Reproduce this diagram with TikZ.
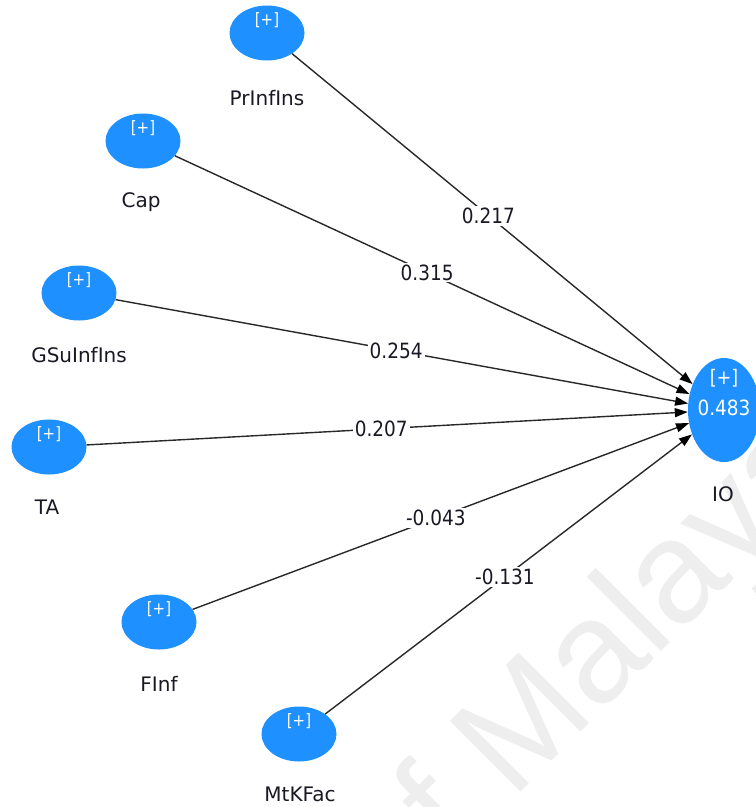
\documentclass[tikz,border=0pt]{standalone}
\usepackage{fontspec}
\setmainfont{DejaVu Sans}
\newfontfamily\edgefont[FakeStretch=0.88]{DejaVu Sans}
\newfontfamily\markfont{Liberation Sans}
\usetikzlibrary{shapes.geometric,arrows.meta}
\definecolor{nodeblue}{RGB}{30,144,255}
\definecolor{linegray}{RGB}{40,40,40}
\definecolor{txtdark}{RGB}{25,25,35}
\definecolor{markgray}{RGB}{238,238,238}

\begin{document}
\begin{tikzpicture}[x=1pt,y=-1pt,
  lv/.style={ellipse, fill=nodeblue, draw=none, minimum width=75pt, minimum height=55pt, inner sep=0pt},
  io/.style={ellipse, fill=nodeblue, draw=none, minimum width=72pt, minimum height=104pt, inner sep=0pt},
  plustxt/.style={text=white, font=\edgefont\fontsize{17}{17}\selectfont, inner sep=0pt},
  lvname/.style={text=txtdark, font=\fontsize{20}{20}\selectfont, inner sep=0pt},
  elab/.style={fill=white, text=txtdark, font=\edgefont\fontsize{21}{21}\selectfont, inner sep=2pt},
  conn/.style={draw=linegray, line width=1.4pt, -{Triangle[length=13pt,width=9pt,color=black]}},
  wmark/.style={rotate=45, text=markgray, font=\markfont\fontsize{145}{145}\selectfont, inner sep=0pt}
]
\useasboundingbox (0,0) rectangle (756,807);

% faint background watermark
\begin{scope}
  \clip (0,0) rectangle (756,807);
  \node[wmark, anchor=base west] (wm) at (398,915) {of Malaya};
\end{scope}

% exogenous constructs
\node[lv] (pr) at (267,33) {};
\node[plustxt] (prP) at (267,20) {[+]};
\node[lvname] (prN) at (267,98) {PrInfIns};

\node[lv] (cap) at (143,141) {};
\node[plustxt] (capP) at (143,128) {[+]};
\node[lvname] (capN) at (141,202) {Cap};

\node[lv] (gsu) at (79,293) {};
\node[plustxt] (gsuP) at (79,280) {[+]};
\node[lvname] (gsuN) at (79,355) {GSuInfIns};

\node[lv] (ta) at (49,447) {};
\node[plustxt] (taP) at (49,434) {[+]};
\node[lvname] (taN) at (47,507) {TA};

\node[lv] (finf) at (159,622) {};
\node[plustxt] (finfP) at (159,609) {[+]};
\node[lvname] (finfN) at (159,684) {FInf};

\node[lv] (mtk) at (299,734) {};
\node[plustxt] (mtkP) at (299,721) {[+]};
\node[lvname] (mtkN) at (300,794) {MtKFac};

% endogenous construct
\node[io] (io) at (724,410) {};
\node[plustxt, font=\edgefont\fontsize{20}{20}\selectfont] (ioP) at (724,378) {[+]};
\node[plustxt, font=\edgefont\fontsize{21}{21}\selectfont] (ioV) at (724,408) {0.483};
\node[lvname] (ioN) at (723,494) {IO};

% path coefficients
\draw[conn] (pr)   -- node[elab, pos=0.49] (c1) {0.217}  (io);
\draw[conn] (cap)  -- node[elab, pos=0.49] (c2) {0.315}  (io);
\draw[conn] (gsu)  -- node[elab, pos=0.49] (c3) {0.254}  (io);
\draw[conn] (ta)   -- node[elab, pos=0.49] (c4) {0.207}  (io);
\draw[conn] (finf) -- node[elab, pos=0.49] (c5) {-0.043} (io);
\draw[conn] (mtk)  -- node[elab, pos=0.49] (c6) {-0.131} (io);
\end{tikzpicture}
\end{document}
